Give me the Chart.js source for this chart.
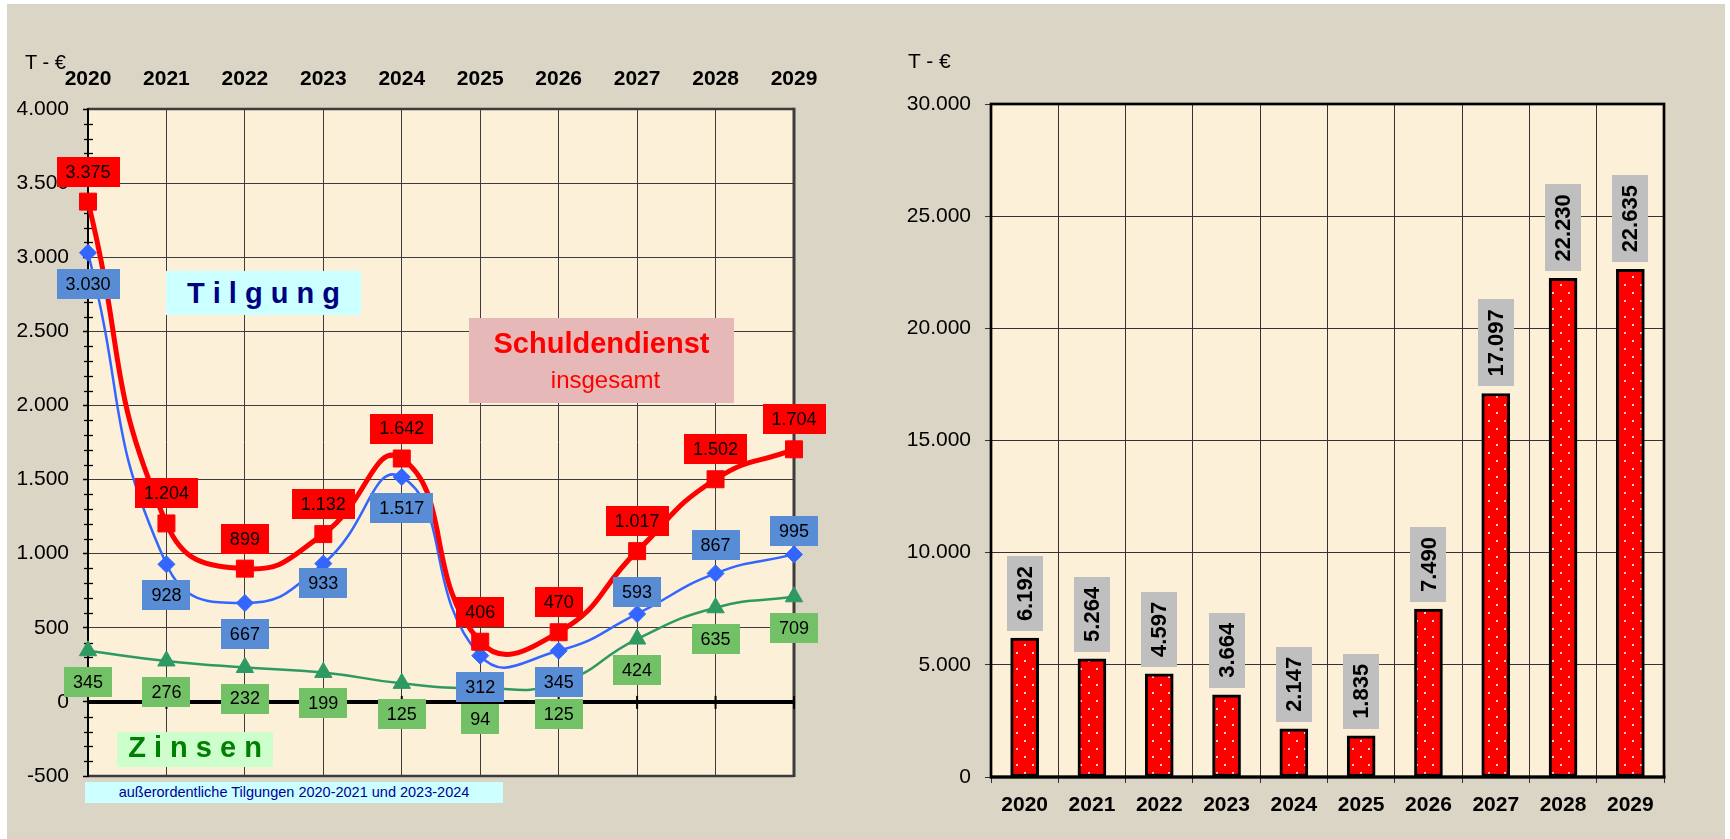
<!DOCTYPE html>
<html><head><meta charset="utf-8">
<script src="https://cdn.jsdelivr.net/npm/chart.js@4.4.1/dist/chart.umd.min.js"></script>
<style>
html,body{margin:0;padding:0;background:#fff;}
#page{position:relative;width:1730px;height:839px;overflow:hidden;background:#fff;}
#bg{position:absolute;left:7px;top:4px;width:1718px;height:835px;background:#dbd5c6;}
canvas{position:absolute;top:0;}
#c1{left:0;}
#c2{left:860px;}
.t{position:absolute;font-family:"Liberation Sans",Arial,sans-serif;white-space:nowrap;line-height:1;}
.box{position:absolute;}
</style></head>
<body>
<div id="page">
<div id="bg"></div>
<canvas id="c1" width="860" height="839"></canvas>
<canvas id="c2" width="870" height="839"></canvas>

<div class="t" style="left:25px;top:52px;font-size:20px;color:#000;">T - €</div>
<div class="t" style="left:908px;top:50px;font-size:21px;color:#000;">T - €</div>

<div class="box" style="left:166px;top:271px;width:195px;height:44px;background:#ccffff;"></div>
<div class="t" style="left:166px;width:195px;top:279px;text-align:center;font-size:29px;font-weight:bold;color:#000080;">T i l g u n g</div>

<div class="box" style="left:469px;top:318px;width:265px;height:85px;background:#e6b8b7;"></div>
<div class="t" style="left:469px;width:265px;top:329px;text-align:center;font-size:29px;font-weight:bold;color:#ff0000;">Schuldendienst</div>
<div class="t" style="left:473px;width:265px;top:368px;text-align:center;font-size:24px;color:#ff0000;">insgesamt</div>

<div class="box" style="left:117px;top:732px;width:156px;height:35px;background:#ccffcc;"></div>
<div class="t" style="left:117px;width:156px;top:733px;text-align:center;font-size:29px;font-weight:bold;color:#008000;">Z i n s e n</div>

<div class="box" style="left:85px;top:782px;width:418px;height:21px;background:#ccffff;"></div>
<div class="t" style="left:85px;width:418px;top:785px;text-align:center;font-size:14.5px;color:#000099;">außerordentliche Tilgungen 2020-2021 und 2023-2024</div>
</div>

<script>
const FONT = '"Liberation Sans", Arial, sans-serif';

// ---- data ----
const years = ['2020','2021','2022','2023','2024','2025','2026','2027','2028','2029'];
const schuldendienst = [3375, 1204, 899, 1132, 1642, 406, 470, 1017, 1502, 1704];
const tilgung        = [3030,  928, 667,  933, 1517, 312, 345,  593,  867,  995];
const zinsen         = [ 345,  276, 232,  199,  125,  94, 125,  424,  635,  709];
const balkenWerte    = [6192, 5264, 4597, 3664, 2147, 1835, 7490, 17097, 22230, 22635];
const leftYTicks  = [-500, 0, 500, 1000, 1500, 2000, 2500, 3000, 3500, 4000];
const rightYTicks = [0, 5000, 10000, 15000, 20000, 25000, 30000];

function fmt(v){
  const s = String(Math.abs(v)).replace(/\B(?=(\d{3})+(?!\d))/g, '.');
  return (v < 0 ? '-' : '') + s;
}

// ---- left chart plugins ----
const leftDeco = {
  id: 'leftDeco',
  beforeDraw(chart){
    const {ctx, chartArea:a} = chart;
    ctx.save();
    ctx.fillStyle = '#fcf0d8';
    ctx.fillRect(a.left, a.top, a.right - a.left, a.bottom - a.top);
    ctx.restore();
  },
  beforeDatasetsDraw(chart){
    const {ctx, chartArea:a, scales} = chart;
    const y = scales.y, x = scales.x;
    ctx.save();
    // frame
    ctx.strokeStyle = '#3c3c3c';
    ctx.lineWidth = 2.6;
    ctx.beginPath(); ctx.moveTo(a.left, a.top); ctx.lineTo(a.right, a.top); ctx.stroke();
    ctx.lineWidth = 3;
    ctx.beginPath(); ctx.moveTo(a.right, a.top - 1.3); ctx.lineTo(a.right, a.bottom + 1); ctx.stroke();
    ctx.lineWidth = 2.3;
    ctx.beginPath(); ctx.moveTo(a.left, a.bottom); ctx.lineTo(a.right, a.bottom); ctx.stroke();
    ctx.strokeStyle = '#000';
    ctx.lineWidth = 2;
    ctx.beginPath(); ctx.moveTo(a.left, a.top - 1); ctx.lineTo(a.left, a.bottom + 1); ctx.stroke();
    // minor ticks on y axis
    ctx.lineWidth = 1.3;
    for (let v = y.min; v <= y.max; v += 100) {
      if (v % 500 === 0) continue;
      const py = Math.round(y.getPixelForValue(v)) + 0.5;
      ctx.beginPath(); ctx.moveTo(a.left - 4, py); ctx.lineTo(a.left + 5, py); ctx.stroke();
    }
    // zero line
    const z = y.getPixelForValue(0);
    ctx.lineWidth = 4;
    ctx.beginPath(); ctx.moveTo(a.left, z); ctx.lineTo(a.right, z); ctx.stroke();
    // category ticks on zero line
    ctx.lineWidth = 2;
    years.forEach((_, i) => {
      const px = x.getPixelForValue(i);
      ctx.beginPath(); ctx.moveTo(px, z - 6); ctx.lineTo(px, z + 7); ctx.stroke();
    });
    ctx.restore();
  }
};

const pointLabels = {
  id: 'pointLabels',
  afterDatasetsDraw(chart){
    const ctx = chart.ctx;
    ctx.save();
    ctx.font = '18px ' + FONT;
    ctx.textAlign = 'center';
    ctx.textBaseline = 'middle';
    for (let di = chart.data.datasets.length - 1; di >= 0; di--) {
      const ds = chart.data.datasets[di];
      const lb = ds.labelBox;
      const meta = chart.getDatasetMeta(di);
      meta.data.forEach((pt, i) => {
        const txt = fmt(ds.data[i]);
        const w = Math.round(ctx.measureText(txt).width + 18);
        const h = 30;
        const dy = Array.isArray(lb.dy) ? lb.dy[i] : lb.dy;
        const cx = pt.x, cy = pt.y + dy;
        ctx.fillStyle = lb.bg;
        ctx.fillRect(Math.round(cx - w / 2), Math.round(cy - h / 2), w, h);
        ctx.fillStyle = '#000';
        ctx.fillText(txt, cx, cy + 1);
      });
    }
    ctx.restore();
  }
};

new Chart(document.getElementById('c1'), {
  type: 'line',
  data: {
    labels: years,
    datasets: [
      {
        label: 'Schuldendienst', data: schuldendienst,
        borderColor: '#ff0000', borderWidth: 5,
        pointStyle: 'rect', pointRadius: 12, pointBorderWidth: 1,
        pointBackgroundColor: '#ff0000', pointBorderColor: '#ff0000',
        tension: 0.5, clip: false,
        labelBox: { bg: '#ff0000', dy: -30 }
      },
      {
        label: 'Tilgung', data: tilgung,
        borderColor: '#3366ff', borderWidth: 2.5,
        pointStyle: 'rectRot', pointRadius: 8.5, pointBorderWidth: 1,
        pointBackgroundColor: '#3366ff', pointBorderColor: '#3366ff',
        tension: 0.5, clip: false,
        labelBox: { bg: '#588dd6', dy: [31, 31, 31, 19, 31, 31, 31, -22, -28, -23] }
      },
      {
        label: 'Zinsen', data: zinsen,
        borderColor: '#2e9a62', borderWidth: 2.5,
        pointStyle: 'triangle', pointRadius: 10, pointBorderWidth: 1,
        pointBackgroundColor: '#2e9a62', pointBorderColor: '#2e9a62',
        tension: 0.5, clip: false,
        labelBox: { bg: '#73c166', dy: 31 }
      }
    ]
  },
  options: {
    responsive: false, animation: false, devicePixelRatio: 1,
    layout: { padding: { left: 0, top: 0, right: 66, bottom: 63 } },
    plugins: { legend: { display: false }, tooltip: { enabled: false }, title: { display: false } },
    scales: {
      x: {
        position: 'top', offset: false,
        grid: { color: '#3c3c3c', lineWidth: 1, drawTicks: false },
        border: { display: false },
        ticks: { color: '#000', font: { family: FONT, size: 21, weight: 'bold' }, padding: 17, maxRotation: 0 },
        afterFit(s){ s.height = 109; }
      },
      y: {
        min: -500, max: 4000,
        afterBuildTicks(s){ s.ticks = leftYTicks.map(v => ({ value: v })); },
        grid: { color: '#3c3c3c', lineWidth: 1, tickLength: 5, tickColor: '#000', tickWidth: 1.5 },
        border: { display: false },
        ticks: { color: '#000', font: { family: FONT, size: 21 }, padding: 14, callback: v => fmt(v) },
        afterFit(s){ s.width = 88; }
      }
    }
  },
  plugins: [leftDeco, pointLabels]
});

// ---- right chart ----
function makePattern(){
  const p = document.createElement('canvas');
  p.width = 16; p.height = 16;
  const g = p.getContext('2d');
  g.fillStyle = '#ff0000'; g.fillRect(0, 0, 16, 16);
  g.fillStyle = '#ffd6d6';
  g.fillRect(4, 4, 2, 2);
  g.fillRect(12, 12, 2, 2);
  return g.createPattern(p, 'repeat');
}

const rightDeco = {
  id: 'rightDeco',
  beforeDraw(chart){
    const {ctx, chartArea:a} = chart;
    ctx.save();
    ctx.fillStyle = '#fcf0d8';
    ctx.fillRect(a.left, a.top, a.right - a.left, a.bottom - a.top);
    ctx.restore();
  },
  beforeDatasetsDraw(chart){
    const {ctx, chartArea:a} = chart;
    ctx.save();
    ctx.strokeStyle = '#000';
    ctx.lineWidth = 2.7;
    ctx.strokeRect(a.left, a.top, a.right - a.left, a.bottom - a.top);
    ctx.restore();
  },
  afterDatasetsDraw(chart){
    const {ctx, chartArea:a} = chart;
    ctx.save();
    ctx.strokeStyle = '#000';
    ctx.lineWidth = 3.2;
    ctx.beginPath(); ctx.moveTo(a.left - 1, a.bottom); ctx.lineTo(a.right + 1.5, a.bottom); ctx.stroke();
    // labels
    const meta = chart.getDatasetMeta(0);
    ctx.font = 'bold 22px ' + FONT;
    ctx.textAlign = 'center';
    ctx.textBaseline = 'middle';
    meta.data.forEach((bar, i) => {
      const txt = fmt(chart.data.datasets[0].data[i]);
      const tw = ctx.measureText(txt).width;
      const h = Math.round(tw + 20), w = 36;
      const bottom = bar.y - 7;
      ctx.fillStyle = '#bfbfbf';
      ctx.fillRect(Math.round(bar.x - w / 2), Math.round(bottom - h), w, h);
      ctx.save();
      ctx.translate(bar.x, bottom - h / 2);
      ctx.rotate(-Math.PI / 2);
      ctx.fillStyle = '#000';
      ctx.fillText(txt, 0, 1);
      ctx.restore();
    });
    ctx.restore();
  }
};

new Chart(document.getElementById('c2'), {
  type: 'bar',
  data: {
    labels: years,
    datasets: [{
      label: 'Gesamt', data: balkenWerte,
      backgroundColor: makePattern(), borderColor: '#000', borderWidth: 3,
      borderSkipped: false, barThickness: 28
    }]
  },
  options: {
    responsive: false, animation: false, devicePixelRatio: 1,
    layout: { padding: { left: 0, top: 104, right: 66, bottom: 0 } },
    plugins: { legend: { display: false }, tooltip: { enabled: false }, title: { display: false } },
    scales: {
      x: {
        grid: { color: '#333', lineWidth: 1, tickLength: 6, offset: true },
        border: { display: false },
        ticks: { color: '#000', font: { family: FONT, size: 21, weight: 'bold' }, padding: 10, maxRotation: 0 },
        afterFit(s){ s.height = 62; }
      },
      y: {
        min: 0, max: 30000,
        afterBuildTicks(s){ s.ticks = rightYTicks.map(v => ({ value: v })); },
        grid: { color: '#333', lineWidth: 1, tickLength: 6 },
        border: { display: false },
        ticks: { color: '#000', font: { family: FONT, size: 21 }, padding: 14, callback: v => fmt(v) },
        afterFit(s){ s.width = 131; }
      }
    }
  },
  plugins: [rightDeco]
});
</script>
</body></html>
